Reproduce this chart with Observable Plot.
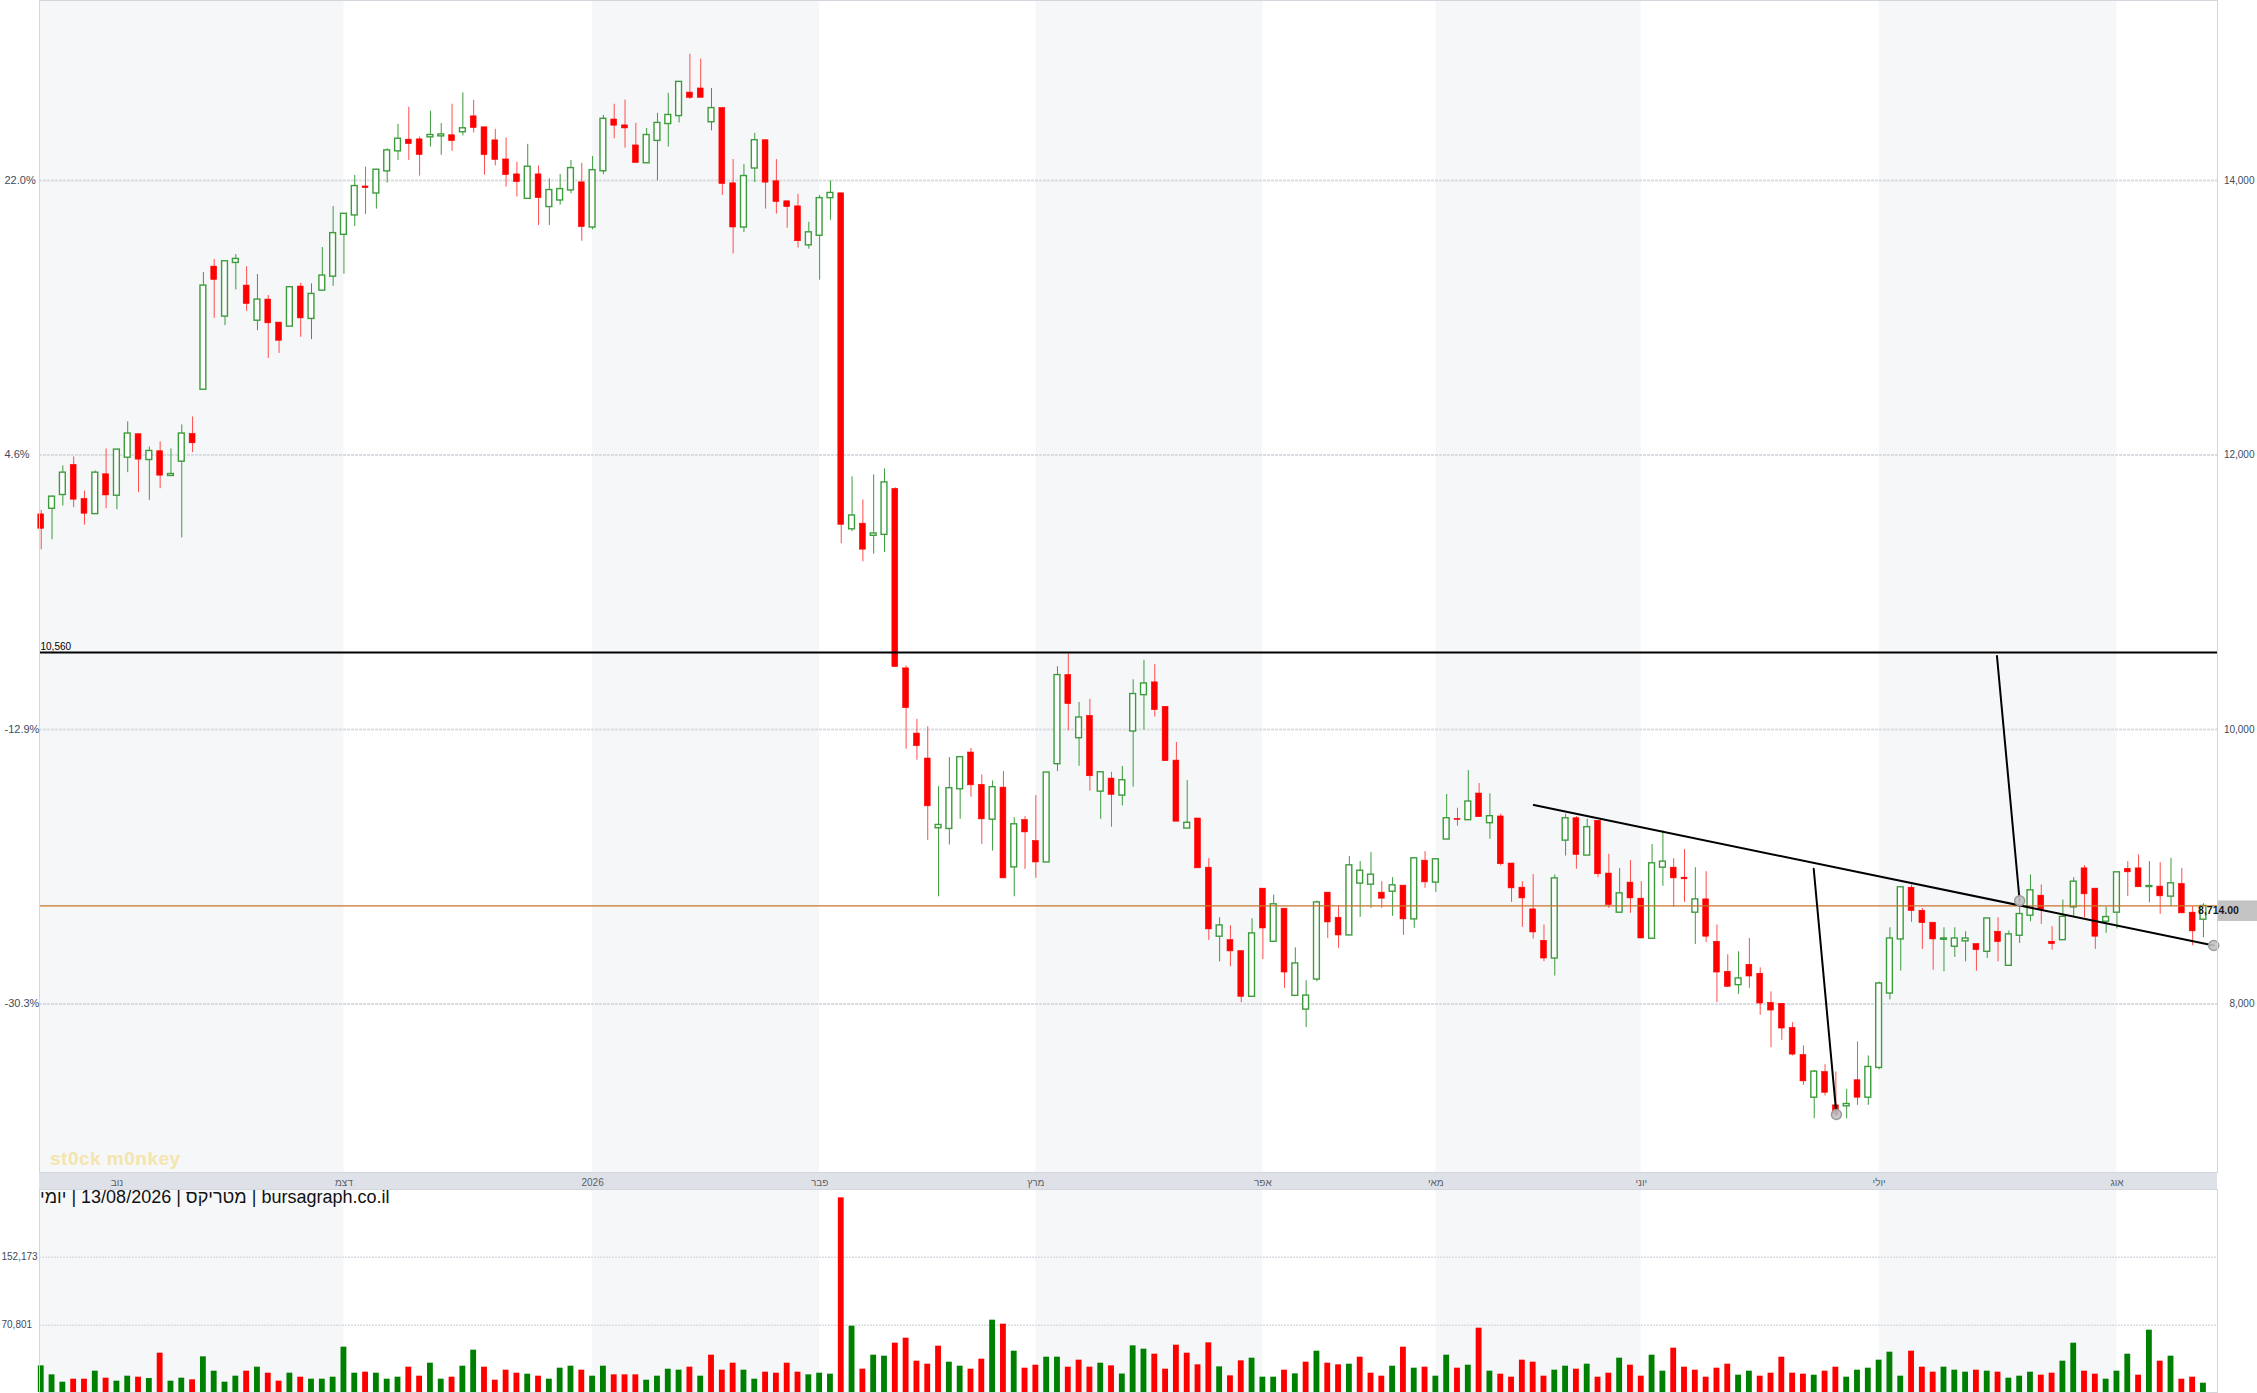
<!DOCTYPE html>
<html><head><meta charset="utf-8">
<script src="https://cdn.jsdelivr.net/npm/d3@7"></script>
<script src="https://cdn.jsdelivr.net/npm/@observablehq/plot@0.6"></script>
<style>
html,body{margin:0;padding:0;background:#fff;}
#wrap{position:relative;width:2257px;height:1393px;overflow:hidden;font-family:"Liberation Sans",Arial,sans-serif;}
#dateband{position:absolute;left:39px;top:1172px;width:2178px;height:17px;background:#dee2e8;}
#main,#vol{position:absolute;left:0;}
#main{top:0;}
#vol{top:1189px;}
#caption{position:absolute;left:40px;top:1187px;font-size:18px;line-height:20px;color:#111;white-space:nowrap;}
#wm{position:absolute;left:50px;top:1148px;font-size:19px;font-weight:bold;color:#f4e2a0;opacity:.85;letter-spacing:.5px;white-space:nowrap;}
</style></head>
<body><div id="wrap">
<div id="dateband"></div>
<div id="main"></div>
<div id="vol"></div>
<div id="wm">st0ck m0nkey</div>
<div id="caption"></div>
</div>
<script>
// ---------- data ----------
const opens = [11567,11608,11708,11927,11679,11569,11859,11703,11980,12151,
11963,12027,11847,11951,12153,12475,13372,13008,13399,13234,
12978,13132,12964,12935,13227,12991,13197,13299,13604,13745,
13956,13905,14066,14212,14297,14299,14314,14321,14329,14351,
14467,14387,14292,14153,14044,13866,14044,13806,13854,13927,
13986,13657,14067,14444,14401,14255,14125,14288,14411,14469,
14640,14670,14424,14527,13979,13657,14087,14293,13994,13848,
13811,13527,13597,13871,13906,11458,11499,11411,11418,11752,
10445,9970,9788,9280,9275,9564,9832,9596,9343,9576,
8995,9340,9187,9031,9747,10396,9936,10099,9547,9642,
9518,9985,10250,10343,10165,9773,9278,9351,8993,8490,
8465,8385,8052,8840,8453,8694,8059,7959,8178,8811,
8628,8499,8877,8869,8811,8818,8862,8616,9044,8884,
9198,9348,9339,9533,9317,9366,9023,8847,8689,8460,
8331,9190,9353,9081,9334,8950,8665,8884,8767,8475,
8993,8993,8920,8665,8762,8453,8234,8137,8285,8220,
8008,8001,7825,7628,7317,7504,7261,7254,7444,7317,
7534,8076,8470,8847,8679,8592,8468,8417,8456,8436,
8380,8526,8278,8497,8643,8789,8453,8465,8704,8988,
8840,8599,8665,8984,8988,8852,8855,8782,8874,8665,
8614];
const highs = [11596,11700,11920,11985,11737,11883,12044,12039,12241,12151,
12058,12095,12044,12219,12277,13330,13424,13411,13460,13372,
13314,13161,12964,13222,13251,13246,13511,13810,13757,14037,
14097,14078,14231,14409,14533,14316,14504,14414,14555,14638,
14584,14387,14372,14309,14132,14263,14105,14012,14044,14146,
14124,14175,14474,14555,14585,14416,14379,14489,14635,14718,
14919,14884,14670,14532,14152,14117,14343,14293,14152,13848,
13899,13695,13891,13997,13906,11840,11672,11855,11898,11760,
10462,10073,10019,9584,9795,9798,9861,9669,9625,9693,
9357,9365,9518,9686,10457,10550,10197,10219,9688,9688,
9730,10362,10503,10472,10165,9905,9627,9351,9059,8628,
8570,8385,8621,8840,8794,8694,8409,8169,8750,8811,
8716,9074,9037,9103,8891,8920,8862,9061,9110,9054,
9526,9426,9701,9606,9531,9383,9023,8891,8942,8575,
8940,9383,9365,9346,9334,9091,8986,9044,8891,9161,
9261,9059,9125,8993,8964,8575,8358,8380,8477,8263,
8088,8001,7864,7694,7516,7558,7504,7378,7723,7621,
8160,8555,8850,8867,8696,8592,8555,8555,8526,8436,
8623,8628,8531,8769,8940,8867,8563,8757,8920,9008,
8840,8706,8959,9037,9086,9037,9030,9061,8988,8709,
8730];
const lows = [11309,11382,11628,11615,11489,11569,11608,11601,11871,11725,
11669,11754,11847,11396,12017,12475,12995,12942,13202,13046,
12905,12703,12740,12935,12857,12840,13197,13229,13317,13664,
13752,13791,13981,14146,14146,14032,14243,14183,14212,14324,
14346,14039,14105,13952,13879,13866,13672,13672,13820,13903,
13557,13640,14042,14303,14235,14127,14125,13997,14243,14419,
14590,14602,14361,13891,13464,13620,13984,13791,13755,13652,
13507,13499,13273,13710,11353,11441,11222,11277,11290,10455,
9856,9776,9192,8781,9158,9345,9506,9163,9114,8915,
8781,8980,8915,9031,9693,9990,9732,9550,9345,9287,
9443,9579,9995,10090,9769,9328,9278,8988,8463,8307,
8271,8010,8052,8324,8453,8113,8059,7828,8161,8477,
8405,8499,8631,8697,8697,8638,8499,8551,8842,8813,
9198,9295,9339,9361,9200,9006,8740,8558,8473,8307,
8203,9078,8981,9081,8920,8696,8665,8660,8477,8475,
8857,8704,8740,8434,8448,8010,8120,8069,8113,7918,
7682,7735,7621,7407,7164,7329,7180,7163,7261,7261,
7520,8030,8239,8594,8397,8246,8234,8339,8307,8239,
8331,8307,8278,8441,8599,8580,8392,8465,8636,8628,
8397,8514,8546,8782,8850,8738,8653,8709,8660,8424,
8482];
const closes = [11462,11696,11871,11674,11572,11871,11705,12039,12156,11966,
12029,11849,11861,12156,12085,13234,13275,13411,13428,13100,
13132,12959,12832,13222,12995,13173,13307,13616,13757,13959,
13944,14078,14219,14304,14265,14185,14331,14335,14287,14380,
14382,14185,14149,14039,13988,14100,13871,13930,13937,14090,
13660,14075,14449,14399,14379,14127,14331,14419,14477,14718,
14602,14602,14527,13974,13657,14032,14293,13984,13843,13806,
13557,13622,13871,13909,11491,11559,11310,11428,11800,10455,
10155,9878,9440,9304,9572,9798,9593,9345,9579,8915,
9309,9250,9031,9686,10396,10185,10087,9659,9688,9523,
9630,10258,10335,10141,9769,9328,9320,8988,8543,8572,
8383,8052,8514,8550,8726,8229,8295,8061,8740,8594,
8499,9010,8971,8942,8767,8864,8616,9061,8886,9054,
9353,9341,9475,9361,9368,9018,8842,8769,8521,8331,
8915,9353,9086,9288,8945,8721,8806,8769,8477,9025,
9037,8915,8908,8762,8490,8229,8125,8186,8200,8003,
7952,7821,7631,7436,7507,7353,7195,7271,7317,7541,
8149,8477,8850,8677,8589,8470,8477,8477,8477,8392,
8623,8451,8507,8655,8828,8684,8436,8635,8891,8799,
8490,8633,8959,8959,8850,8859,8784,8879,8660,8529,
8714];
const volumes = [22200,11430,2650,6240,6240,15810,7440,3850,9830,8630,
7040,37350,3850,7440,5440,32970,15810,2650,9830,15810,
20600,13420,3850,13420,8630,6240,6240,8630,44540,13420,
14620,13420,6240,8630,20600,9830,25390,6240,8630,21800,
40950,20600,5040,17010,13420,12220,9830,6240,19400,21800,
17010,9830,21800,11430,11430,11430,5040,9830,18210,17010,
20600,9830,34960,17010,25390,17010,6240,14620,13420,25390,
14620,11430,13420,12220,223240,69670,18210,34960,33760,49320,
55300,27780,24190,45740,26580,21800,18210,30180,76840,72060,
39750,19400,22990,32570,32570,20600,28980,20600,25390,22200,
12400,46130,42140,36160,18210,46930,37350,23400,49720,20990,
10230,28180,31370,8630,8630,17010,12620,26580,39750,25390,
23400,24190,32570,13420,9830,21800,44540,19400,20600,9830,
34960,19400,22990,67270,15810,12220,8630,28980,26580,9830,
17010,21800,18210,24190,8630,13420,31370,22990,9830,34960,
15810,43340,20600,17010,8630,19400,24190,11030,15810,9830,
13420,32570,13420,12220,11030,15810,20600,8630,17010,19400,
28980,38550,9830,39750,20600,14620,20600,17010,14620,17010,
15810,14620,7440,9830,14620,11030,13420,27780,49320,15810,
12220,6240,15810,36160,11030,64880,27780,33760,6240,8630,
1450];

const monthTicks = [7, 28, 51, 72, 92, 113, 129, 148, 170, 192];
const monthLabels = ["נוב","דצמ","2026","פבר","מרץ","אפר","מאי","יוני","יולי","אוג"];
const bandStarts = [28, 51, 72, 92, 113, 129, 148, 170, 192];

const priceTicks = [8000, 10000, 12000, 14000];
const basePrice = 11475;
const levelLine = 10560;
const volTicks = [70801, 152173];

const trendPoints = [
  {id: "a", i: 138.06, p: 9449}, {id: "a", i: 200.95, p: 8426},
  {id: "b", i: 163.95, p: 8985}, {id: "b", i: 166.05, p: 7195},
  {id: "c", i: 180.9, p: 10535}, {id: "c", i: 183.0, p: 8752}
];
const markerPoints = [
  {i: 166.05, p: 7195}, {i: 183.0, p: 8752}, {i: 200.95, p: 8426}
];

// ---------- scales / styles ----------
const xDomain = [-0.16, 201.3];
const priceDomain = [6772, 15311];
const volDomain = [-9692, 233217];
const GREEN = "#3c9c3c", RED = "#ff0000", VGREEN = "#008000", BAND = "#f6f7f9";
const GRID = "#d9dde3", FRAME = "#d3d7dd", AXIS = "#3f4a5a";
const bw = 0.27;

const candles = opens.map((o, i) => ({
  i, o, h: highs[i], l: lows[i], c: closes[i], v: volumes[i],
  up: closes[i] >= o,
  volUp: i === 0 || closes[i] >= closes[i - 1]
}));
const edges = [xDomain[0], ...bandStarts, xDomain[1]];
const bands = edges.slice(0, -1).map((x1, k) => ({x1, x2: edges[k + 1], gray: k % 2 === 0})).filter(d => d.gray);
const lastClose = closes[closes.length - 1];
const labelMap = new Map(monthTicks.map((t, k) => [t, monthLabels[k]]));
const pct = d => ((d / basePrice - 1) * 100).toFixed(1) + "%";
const FONT = "'Liberation Sans', Arial, sans-serif";

const main = Plot.plot({
  width: 2257, height: 1189,
  marginLeft: 39, marginRight: 40, marginTop: 0, marginBottom: 17,
  style: {background: "transparent", fontFamily: FONT, overflow: "visible"},
  x: {domain: xDomain, axis: null},
  y: {domain: priceDomain, axis: null},
  marks: [
    Plot.rect(bands, {x1: "x1", x2: "x2", fill: BAND}),
    Plot.ruleY(priceTicks, {stroke: GRID, strokeWidth: 2, strokeDasharray: "3,1"}),
    Plot.ruleX(candles.filter(d => d.up), {x: "i", y1: "l", y2: "h", stroke: GREEN, strokeWidth: 1}),
    Plot.ruleX(candles.filter(d => !d.up), {x: "i", y1: "l", y2: "h", stroke: "#ff4d4d", strokeWidth: 1}),
    Plot.rect(candles.filter(d => d.up), {x1: d => d.i - bw, x2: d => d.i + bw, y1: "o", y2: "c", fill: "white", stroke: GREEN, strokeWidth: 1.4}),
    Plot.rect(candles.filter(d => !d.up), {x1: d => d.i - bw, x2: d => d.i + bw, y1: "o", y2: "c", fill: RED, stroke: RED, strokeWidth: 0.6}),
    Plot.ruleY([levelLine], {stroke: "#000", strokeWidth: 2}),
    Plot.ruleY([lastClose], {stroke: "#c8742c", strokeWidth: 1.2}),
    Plot.line(trendPoints, {x: "i", y: "p", z: "id", stroke: "#000", strokeWidth: 2}),
    Plot.dot(markerPoints, {x: "i", y: "p", r: 5, fill: "#c2c2c2", stroke: "#9c9c9c", fillOpacity: 0.9}),
    Plot.frame({stroke: FRAME}),
    Plot.text([levelLine], {y: d => d, frameAnchor: "left", text: d => d3.format(",")(d), textAnchor: "start", dx: 1, dy: -6, fontSize: 10, fill: "#000"}),
    Plot.axisY({ticks: priceTicks, anchor: "right", tickSize: 0, tickPadding: 37, textAnchor: "end", tickFormat: d3.format(","), fontSize: 10, color: AXIS, label: null}),
    Plot.axisY({ticks: priceTicks, anchor: "left", tickSize: 0, tickPadding: 35, textAnchor: "start", tickFormat: pct, fontSize: 11, color: AXIS, label: null}),
    Plot.axisX({ticks: monthTicks, anchor: "bottom", tickSize: 0, tickPadding: 6, tickFormat: d => labelMap.get(d), fontSize: 10, color: "#5a5f66", label: null})
  ]
});
document.getElementById("main").appendChild(main);

// last price tag on the right axis
const yy = main.scale("y").apply(lastClose);
const xr = main.scale("x").apply(xDomain[1]);
const svgMain = d3.select(main);
svgMain.append("rect").attr("x", xr + 0.5).attr("y", yy - 5).attr("width", 2257 - xr).attr("height", 20.5).attr("fill", "#c3c3c3");
svgMain.append("text").attr("x", xr + 1.5).attr("y", yy + 5.5).attr("dominant-baseline", "middle")
  .attr("font-size", 10.5).attr("font-weight", "bold").attr("fill", "#1a1a1a").attr("font-family", FONT)
  .text(d3.format(",.2f")(lastClose));

const vol = Plot.plot({
  width: 2257, height: 204,
  marginLeft: 39, marginRight: 40, marginTop: 0, marginBottom: 1,
  style: {background: "transparent", fontFamily: FONT},
  x: {domain: xDomain, axis: null},
  y: {domain: volDomain, axis: null},
  marks: [
    Plot.rect(bands, {x1: "x1", x2: "x2", fill: BAND}),
    Plot.ruleY(volTicks, {stroke: GRID, strokeWidth: 1.5, strokeDasharray: "2,1"}),
    Plot.rect(candles.filter(d => d.volUp), {x1: d => d.i - bw, x2: d => d.i + bw, y1: () => volDomain[0], y2: "v", fill: VGREEN}),
    Plot.rect(candles.filter(d => !d.volUp), {x1: d => d.i - bw, x2: d => d.i + bw, y1: () => volDomain[0], y2: "v", fill: RED}),
    Plot.frame({stroke: FRAME}),
    Plot.axisY({ticks: volTicks, anchor: "left", tickSize: 0, tickPadding: 38, textAnchor: "start", tickFormat: d3.format(","), fontSize: 10, color: AXIS, label: null})
  ]
});
document.getElementById("vol").appendChild(vol);

document.getElementById("caption").textContent =
  "יומי\u200E | 13/08/2026 | \u200Eמטריקס\u200E | bursagraph.co.il";
</script>
</body></html>
